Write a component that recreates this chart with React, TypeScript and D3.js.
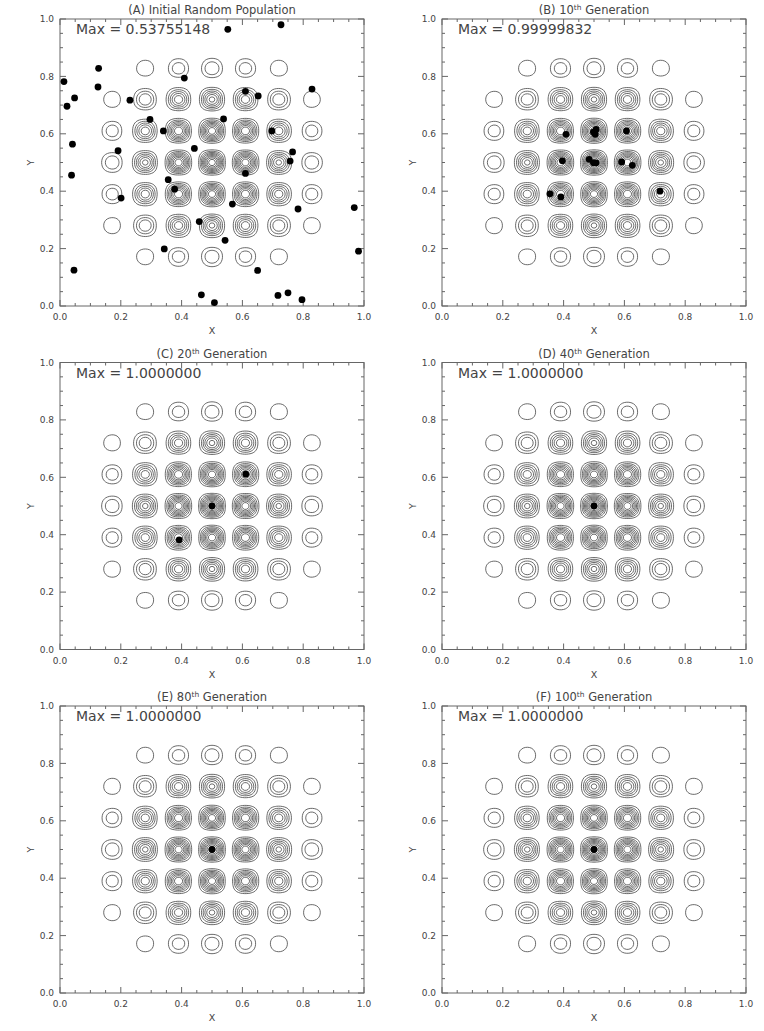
import React from 'react';
import * as d3 from 'd3';

// ---------- data ----------
const PANEL_LETTERS = ['(A)', '(B)', '(C)', '(D)', '(E)', '(F)'];
const GENERATIONS: (number | null)[] = [null, 10, 20, 40, 80, 100];
const MAX_VALUES = ['0.53755148', '0.99999832', '1.0000000', '1.0000000', '1.0000000', '1.0000000'];

const popA_x = [0.552, 0.727, 0.013, 0.127, 0.125, 0.048, 0.023, 0.409, 0.230, 0.610, 0.652, 0.829, 0.296, 0.538, 0.340, 0.697, 0.041, 0.191, 0.442, 0.765, 0.757, 0.038, 0.610, 0.356, 0.377, 0.201, 0.567, 0.783, 0.968, 0.458, 0.543, 0.343, 0.982, 0.046, 0.650, 0.465, 0.508, 0.717, 0.750, 0.796];
const popA_y = [0.964, 0.980, 0.782, 0.828, 0.763, 0.725, 0.696, 0.794, 0.717, 0.748, 0.732, 0.756, 0.650, 0.652, 0.610, 0.610, 0.564, 0.541, 0.549, 0.537, 0.505, 0.456, 0.462, 0.440, 0.407, 0.376, 0.355, 0.338, 0.343, 0.294, 0.229, 0.199, 0.191, 0.125, 0.124, 0.039, 0.012, 0.037, 0.046, 0.022];

const popB_x = [0.408, 0.498, 0.507, 0.504, 0.607, 0.396, 0.484, 0.498, 0.507, 0.591, 0.626, 0.355, 0.391, 0.717];
const popB_y = [0.598, 0.606, 0.615, 0.598, 0.610, 0.506, 0.511, 0.499, 0.499, 0.502, 0.490, 0.391, 0.380, 0.400];

const popC_x = [0.500, 0.611, 0.392];
const popC_y = [0.500, 0.611, 0.382];

const popD_x = [0.500];
const popD_y = [0.500];
const popE_x = [0.500];
const popE_y = [0.500];
const popF_x = [0.500];
const popF_y = [0.500];

const POP_X = [popA_x, popB_x, popC_x, popD_x, popE_x, popF_x];
const POP_Y = [popA_y, popB_y, popC_y, popD_y, popE_y, popF_y];

// contour field: PIKAIA 2-D test function, n = 9
const N_WAVE = 9;
const CONTOUR_LEVELS = [0.1, 0.2, 0.3, 0.4, 0.5, 0.6, 0.7, 0.8, 0.9];
const GRID_N = 161;
// rings smaller than this (in data units) are below the original plot's resolution
const MIN_RING_SIZE = 0.0175;

const MAJOR_TICKS = [0, 0.2, 0.4, 0.6, 0.8, 1.0];
const TICK_LABELS = ['0.0', '0.2', '0.4', '0.6', '0.8', '1.0'];
const MINOR_STEP = 0.05;

// ---------- layout ----------
const W = 764;
const H = 1031;
const COL_X = [60, 442];
const ROW_Y = [19, 362.5, 706];
const PW = 304;
const PH = 287;

const FONT = '"DejaVu Sans", sans-serif';
const INK = '#444';

function field(x: number, y: number) {
  const v = 16 * x * (1 - x) * y * (1 - y) * Math.sin(N_WAVE * Math.PI * x) * Math.sin(N_WAVE * Math.PI * y);
  return v * v;
}

const values = (() => {
  const arr = new Float64Array(GRID_N * GRID_N);
  for (let j = 0; j < GRID_N; j++) {
    for (let i = 0; i < GRID_N; i++) {
      arr[j * GRID_N + i] = field(i / (GRID_N - 1), j / (GRID_N - 1));
    }
  }
  return arr;
})();

const contourSet = d3
  .contours()
  .size([GRID_N, GRID_N])
  .thresholds(CONTOUR_LEVELS)(Array.from(values))
  .map((c: any) => {
    const minGrid = MIN_RING_SIZE * (GRID_N - 1);
    const coords = c.coordinates.filter((poly: number[][][]) => {
      const ring = poly[0];
      const ex = d3.extent(ring, (p) => p[0]) as [number, number];
      return ex[1] - ex[0] >= minGrid;
    });
    return { ...c, coordinates: coords };
  });

function Panel({ idx }: { idx: number }) {
  const col = idx % 2;
  const row = Math.floor(idx / 2);
  const L = COL_X[col];
  const T = ROW_Y[row];
  const xs = d3.scaleLinear().domain([0, 1]).range([L, L + PW]);
  const ys = d3.scaleLinear().domain([0, 1]).range([T + PH, T]);
  const B = T + PH;
  const R = L + PW;

  const proj = d3.geoTransform({
    point(this: any, x: number, y: number) {
      this.stream.point(xs((x - 0.5) / (GRID_N - 1)), ys((y - 0.5) / (GRID_N - 1)));
    },
  });
  const path = d3.geoPath(proj);

  const allTicks = d3.range(0, 1 + 1e-9, MINOR_STEP);
  const isMajor = (t: number) => MAJOR_TICKS.some((m) => Math.abs(m - t) < 1e-6);
  const MAJ = 6;
  const MIN = 3;

  const gen = GENERATIONS[idx];
  const cx = (L + R) / 2;

  return (
    <g>
      {/* title */}
      <text x={cx} y={T - 5} textAnchor="middle" fontFamily={FONT} fontSize={11.5} fill={INK}>
        {gen === null ? (
          `${PANEL_LETTERS[idx]} Initial Random Population`
        ) : (
          <>
            {`${PANEL_LETTERS[idx]} ${gen}`}
            <tspan fontSize={7.5} dy={-4}>th</tspan>
            <tspan dy={4}>{' Generation'}</tspan>
          </>
        )}
      </text>

      {/* contours */}
      <g fill="none" stroke="#3a3a3a" strokeWidth={0.75}>
        {contourSet.map((c: any, k: number) => (
          <path key={k} d={path(c) || ''} />
        ))}
      </g>

      {/* frame */}
      <rect x={L} y={T} width={PW} height={PH} fill="none" stroke="#666" strokeWidth={1} />

      {/* ticks */}
      <g stroke="#666" strokeWidth={1}>
        {allTicks.map((t, k) => {
          const len = isMajor(t) ? MAJ : MIN;
          const x = xs(t);
          const y = ys(t);
          return (
            <g key={k}>
              <line x1={x} x2={x} y1={B} y2={B - len} />
              <line x1={x} x2={x} y1={T} y2={T + len} />
              <line x1={L} x2={L + len} y1={y} y2={y} />
              <line x1={R} x2={R - len} y1={y} y2={y} />
            </g>
          );
        })}
      </g>

      {/* tick labels */}
      <g fontFamily={FONT} fontSize={9} fill={INK}>
        {MAJOR_TICKS.map((t, k) => (
          <text key={'x' + k} x={xs(t)} y={B + 14} textAnchor="middle">
            {TICK_LABELS[k]}
          </text>
        ))}
        {MAJOR_TICKS.map((t, k) => (
          <text key={'y' + k} x={L - 6} y={ys(t) + 3.2} textAnchor="end">
            {TICK_LABELS[k]}
          </text>
        ))}
      </g>
      <text x={cx} y={B + 28} textAnchor="middle" fontFamily={FONT} fontSize={9.5} fill={INK}>
        X
      </text>
      <text
        transform={`translate(${L - 26},${(T + B) / 2}) rotate(-90)`}
        textAnchor="middle"
        fontFamily={FONT}
        fontSize={9.5}
        fill={INK}
      >
        Y
      </text>

      {/* max label */}
      <text x={L + 16} y={T + 15} fontFamily={FONT} fontSize={14} fill={INK}>
        {`Max = ${MAX_VALUES[idx]}`}
      </text>

      {/* population */}
      <g fill="#000">
        {POP_X[idx].map((px, k) => (
          <circle key={k} cx={xs(px)} cy={ys(POP_Y[idx][k])} r={3.4} />
        ))}
      </g>
    </g>
  );
}

export default function App() {
  return (
    <svg
      width={W}
      height={H}
      viewBox={`0 0 ${W} ${H}`}
      style={{ position: 'absolute', left: 0, top: 0, background: '#fff' }}
    >
      <rect x={0} y={0} width={W} height={H} fill="#fff" />
      {[0, 1, 2, 3, 4, 5].map((i) => (
        <Panel key={i} idx={i} />
      ))}
    </svg>
  );
}
